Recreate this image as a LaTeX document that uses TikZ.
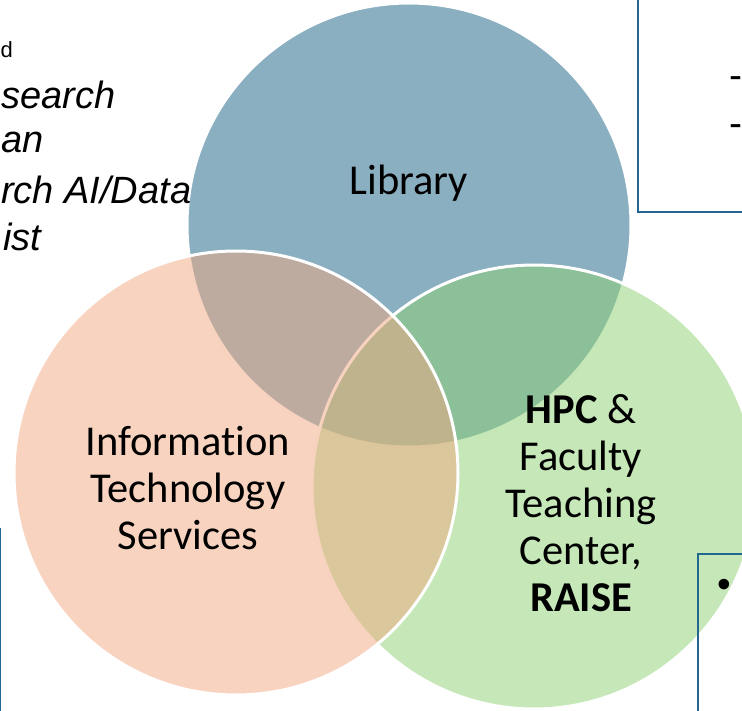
\documentclass[tikz,border=0pt]{standalone}
\usepackage{fontspec}
\setmainfont{Carlito}[Ligatures = {NoCommon, NoContextual}]
\newfontfamily\arialfont{Liberation Sans}
\usetikzlibrary{calc}

\definecolor{libblue}{RGB}{21,95,129}
\definecolor{itspeach}{RGB}{241,167,129}
\definecolor{hpcgreen}{RGB}{141,209,113}
\definecolor{boxblue}{RGB}{35,102,145}

\tikzset{
  venn/.style = {circle, draw = white, line width = 3pt, fill opacity = 0.5,
    minimum size = 444pt, inner sep = 0pt},
  venn label/.style = {align = center, font = \fontsize{42.5}{47}\selectfont},
  side note/.style = {anchor = west, inner sep = 0pt,
    font = \arialfont\itshape\fontsize{38}{47}\selectfont},
  list mark/.style = {anchor = west, inner sep = 0pt,
    font = \arialfont\fontsize{39}{47}\selectfont},
  box/.style = {draw = boxblue, line width = 1.5pt},
}

\begin{document}
\begin{tikzpicture}[x = 1pt, y = -1pt]
  \useasboundingbox (0,0) rectangle (742,711);

  % Define circles
  \node [venn, fill = libblue] (library) at (409,225) {};
  \node [venn, fill = hpcgreen] (hpc) at (534,487) {};
  \node [venn, fill = itspeach] (its) at (236,473) {};

  % Draw labels
  \node [venn label] (library_label) at ($(library)+(0,-42)$) {Library};
  \node [venn label] (its_label) at ($(its)+(-48,15)$)
    {Information\\Technology\\Services};
  \node [venn label] (hpc_label) at ($(hpc)+(47,16)$)
    {\textbf{HPC} \&\\Faculty\\Teaching\\Center,\\\textbf{RAISE}};

  % Text cut off on the left
  \node [anchor = west, inner sep = 0pt, font = \arialfont\fontsize{22}{26}\selectfont]
    (note_d) at (0.5,50) {d};
  \node [side note] (note_1) at (1,95) {search};
  \node [side note] (note_2) at (1,142) {an};
  \node [side note] (note_3) at (1,190) {rch AI/Data};
  \node [side note] (note_4) at (3,237) {ist};

  % Boxes at the edges
  \draw [box] (638,-10) rectangle (760,212);
  \node [list mark] (dash_1) at (729,83) {-};
  \node [list mark] (dash_2) at (729,131) {-};

  \draw [box] (-60,529) rectangle (0.6,720);

  \draw [box] (698,554) rectangle (760,720);
  \node [list mark] (bullet_1) at (717,588) {\textbullet};
\end{tikzpicture}
\end{document}
